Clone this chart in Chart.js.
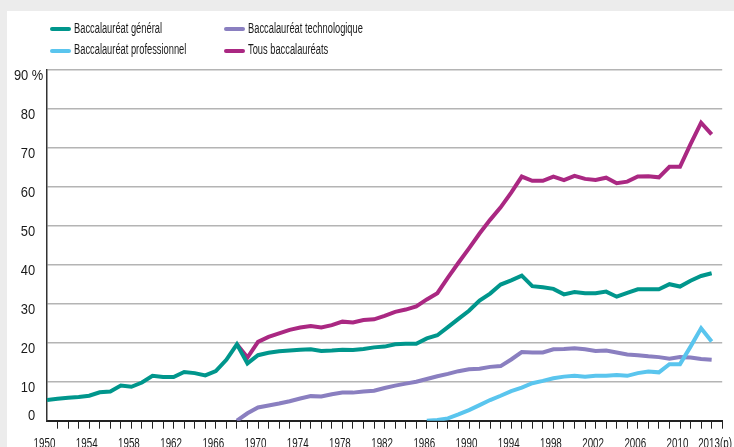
<!DOCTYPE html>
<html><head><meta charset="utf-8">
<script src="https://cdn.jsdelivr.net/npm/chart.js@4.4.0/dist/chart.umd.min.js"></script>
<style>
html,body{margin:0;padding:0;background:#ececec;width:734px;height:447px;overflow:hidden;}
#panel{position:absolute;left:7px;top:11px;right:0;bottom:0;background:#fff;}
#c{position:absolute;left:0;top:0;}
.lg{position:absolute;font-family:"Liberation Sans",Arial,sans-serif;font-size:14px;line-height:14px;color:#1a1a1a;white-space:nowrap;transform:scaleX(0.665);transform-origin:0 0;}
.sw{position:absolute;width:21px;height:4px;border-radius:2px;}
</style></head><body>
<div id="panel"></div>
<canvas id="c" width="734" height="447"></canvas>
<div id="legend">
  <div class="sw" style="left:50px;top:27.3px;background:#00968c"></div>
  <div class="lg" style="left:74px;top:20.9px">Baccalauréat général</div>
  <div class="sw" style="left:50px;top:49px;background:#5ac5ee"></div>
  <div class="lg" style="left:74px;top:41.9px">Baccalauréat professionnel</div>
  <div class="sw" style="left:224px;top:27.3px;background:#8a7fc0"></div>
  <div class="lg" style="left:248.3px;top:20.9px">Baccalauréat technologique</div>
  <div class="sw" style="left:224px;top:49px;background:#aa2882"></div>
  <div class="lg" style="left:248.3px;top:41.9px">Tous baccalauréats</div>
</div>
<script>
const years = [1950,1951,1952,1953,1954,1955,1956,1957,1958,1959,
  1960,1961,1962,1963,1964,1965,1966,1967,1968,1969,
  1970,1971,1972,1973,1974,1975,1976,1977,1978,1979,
  1980,1981,1982,1983,1984,1985,1986,1987,1988,1989,
  1990,1991,1992,1993,1994,1995,1996,1997,1998,1999,
  2000,2001,2002,2003,2004,2005,2006,2007,2008,2009,
  2010,2011,2012,2013];

const bacGeneral = [5.3,5.6,5.9,6.1,6.4,7.3,7.5,9.0,8.7,9.8,
  11.5,11.2,11.2,12.5,12.2,11.6,12.7,15.6,19.6,14.7,
  16.8,17.4,17.8,18.0,18.2,18.3,17.9,18.0,18.2,18.1,
  18.4,18.8,19.0,19.6,19.7,19.7,21.1,21.9,24.0,26.1,
  28.2,30.8,32.6,34.9,36.0,37.2,34.5,34.2,33.8,32.4,
  33.0,32.7,32.7,33.1,31.8,32.8,33.7,33.7,33.7,35.0,
  34.4,35.9,37.1,37.8];

const bacTechno = [null,null,null,null,null,null,null,null,null,null,
  null,null,null,null,null,null,null,null,0,1.9,
  3.4,3.9,4.4,5.0,5.7,6.3,6.2,6.8,7.2,7.2,
  7.5,7.7,8.4,9.0,9.5,10.0,10.7,11.4,12.0,12.7,
  13.2,13.3,13.8,14.0,15.7,17.6,17.5,17.5,18.3,18.4,
  18.6,18.3,17.9,18.0,17.5,17.0,16.8,16.5,16.3,15.9,
  16.3,16.2,15.8,15.6];

const bacPro = [null,null,null,null,null,null,null,null,null,null,
  null,null,null,null,null,null,null,null,null,null,
  null,null,null,null,null,null,null,null,null,null,
  null,null,null,null,null,null,0,0.2,0.6,1.6,
  2.7,4.0,5.3,6.4,7.6,8.5,9.6,10.2,10.9,11.3,
  11.5,11.3,11.5,11.5,11.7,11.5,12.2,12.6,12.4,14.5,
  14.5,19.0,23.7,20.3];

const tousBacs = [null,null,null,null,null,null,null,null,null,null,
  null,null,null,null,null,null,null,null,19.6,16.2,
  20.2,21.5,22.4,23.3,23.9,24.3,23.9,24.5,25.4,25.2,
  25.8,26.0,26.9,27.9,28.5,29.3,31.1,32.7,36.7,40.5,
  44.2,48.0,51.5,54.7,58.5,62.6,61.5,61.5,62.6,61.7,
  62.8,62.0,61.7,62.3,60.9,61.3,62.6,62.7,62.4,65.1,
  65.1,70.9,76.4,73.4];

const xTickYears  = [1950,1954,1958,1962,1966,1970,1974,1978,1982,1986,1990,1994,1998,2002,2006,2010,2013];
const xTickLabels = ['1950','1954','1958','1962','1966','1970','1974','1978','1982','1986','1990','1994','1998','2002','2006','2010','2013(p)'];
const yTickValues = [0,10,20,30,40,50,60,70,80,90];
const yTickLabels = ['0','10','20','30','40','50','60','70','80','90 %'];

const pts = arr => years.map((y,i)=>({x:y, y:arr[i]}));

const labelPlugin = {
  id:'axisLabels',
  afterDraw(chart){
    const ctx = chart.ctx, xs = chart.scales.x, ys = chart.scales.y;
    ctx.save();
    ctx.fillStyle = '#1a1a1a';
    ctx.textBaseline = 'alphabetic';
    ctx.font = '15px "Liberation Sans", Arial, sans-serif';
    yTickValues.forEach((v,i)=>{
      const py = ys.getPixelForValue(v);
      const xr = (i === yTickValues.length-1) ? 43.3 : 35.2;
      const by = v === 0 ? py - 0.5 : py + 10.5;
      ctx.save(); ctx.translate(xr, by); ctx.scale(0.86,1);
      ctx.textAlign = 'right'; ctx.fillText(yTickLabels[i],0,0); ctx.restore();
    });
    ctx.font = '14px "Liberation Sans", Arial, sans-serif';
    xTickYears.forEach((yr,i)=>{
      const px = xs.getPixelForValue(yr);
      const last = i === xTickYears.length-1;
      ctx.save(); ctx.translate(last ? px - 13.5 : px - 2.5, 448.3); ctx.scale(0.7,1);
      ctx.textAlign = last ? 'left' : 'center'; ctx.fillText(xTickLabels[i],0,0); ctx.restore();
    });
    ctx.restore();
  }
};

const ds = (label, arr, color) => ({label, data: pts(arr), borderColor: color, backgroundColor: color,
  borderWidth: 4, pointRadius: 0, tension: 0, spanGaps: false, borderJoinStyle: 'miter', fill:false});

new Chart(document.getElementById('c'), {
  type: 'line',
  data: { datasets: [
    ds('Baccalauréat général', bacGeneral, '#00968c'),
    ds('Baccalauréat professionnel', bacPro, '#5ac5ee'),
    ds('Baccalauréat technologique', bacTechno, '#8a7fc0'),
    ds('Tous baccalauréats', tousBacs, '#aa2882')
  ]},
  options: {
    responsive: false, animation: false, devicePixelRatio: 1,
    layout: { padding: { top: 69.7, right: 11.8, left: 0, bottom: 0 } },
    plugins: { legend: { display: false }, tooltip: { enabled: false } },
    scales: {
      x: { type: 'linear', min: 1950, max: 2014,
        ticks: { display: false, stepSize: 1, autoSkip: false },
        grid: { drawOnChartArea: false, drawTicks: true, tickLength: 8, lineWidth: 1,
          color: c => (c.tick && c.tick.value === 1950) ? 'rgba(0,0,0,0)' : '#222' },
        border: { display: true, color: '#222', width: 2 },
        afterFit: s => { s.height = 26.3; }
      },
      y: { min: 0, max: 90,
        ticks: { display: false, stepSize: 10 },
        grid: { drawTicks: false, lineWidth: 1.5,
          color: c => (c.tick && c.tick.value === 0) ? 'rgba(0,0,0,0)' : '#b4b4b4' },
        border: { display: true, color: '#333', width: 1.5 },
        afterFit: s => { s.height; s.width = 47; }
      }
    }
  },
  plugins: [labelPlugin]
});
</script>
</body></html>
